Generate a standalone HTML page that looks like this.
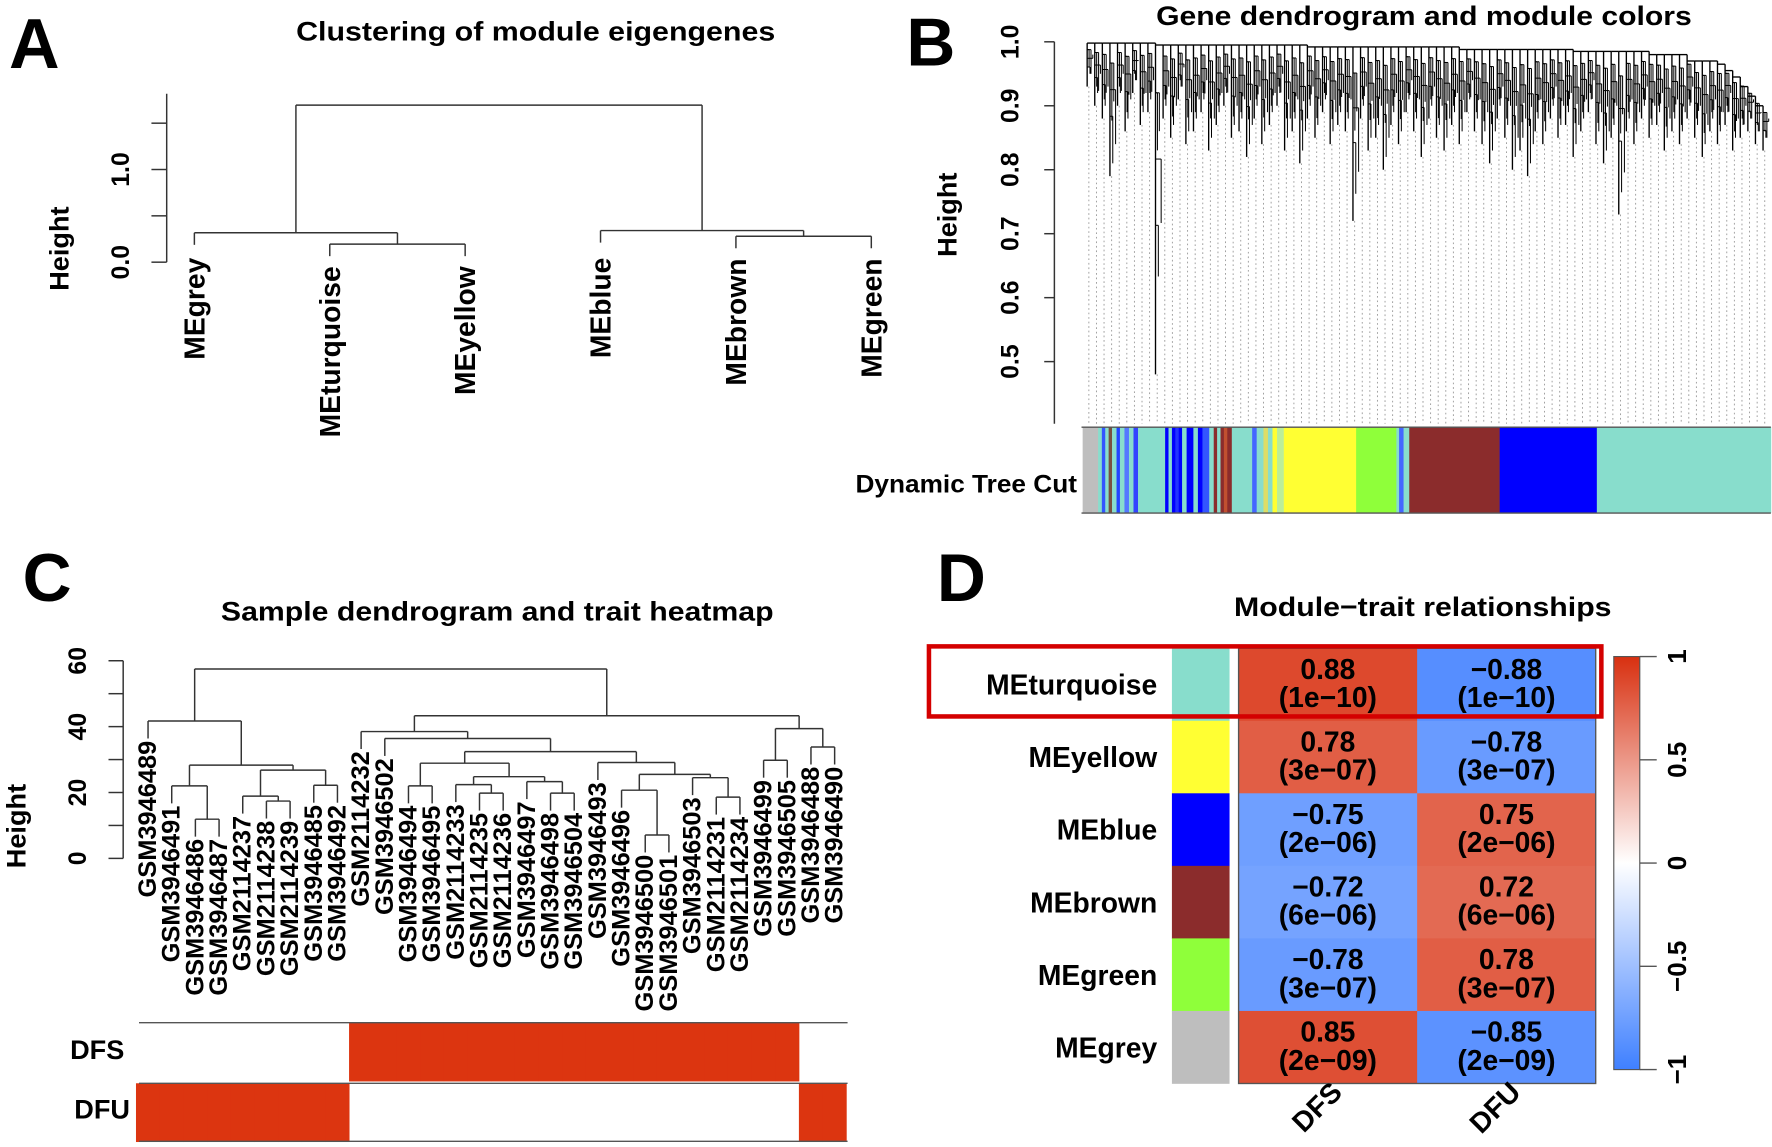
<!DOCTYPE html>
<html><head><meta charset="utf-8"><style>
html,body{margin:0;padding:0;background:#fff;}
svg{display:block;}
text{font-family:"Liberation Sans",sans-serif;fill:#000;}
.b{font-weight:bold;}
</style></head><body>
<svg id="fig" xmlns="http://www.w3.org/2000/svg" width="1772" height="1147" viewBox="0 0 1568 1015" preserveAspectRatio="none">
<g>
<text class="b" x="8" y="60" font-size="62">A</text>
<text class="b" x="802" y="58" font-size="60">B</text>
<text class="b" x="20" y="532" font-size="60">C</text>
<text class="b" x="829" y="532" font-size="60">D</text>
</g>
<text class="b" x="474" y="36" font-size="24" text-anchor="middle" textLength="424" lengthAdjust="spacingAndGlyphs">Clustering of module eigengenes</text>
<text class="b" x="1260" y="22" font-size="24" text-anchor="middle" textLength="474" lengthAdjust="spacingAndGlyphs">Gene dendrogram and module colors</text>
<text class="b" x="440" y="549" font-size="24" text-anchor="middle" textLength="489" lengthAdjust="spacingAndGlyphs">Sample dendrogram and trait heatmap</text>
<text class="b" x="1259" y="545" font-size="24" text-anchor="middle" textLength="334" lengthAdjust="spacingAndGlyphs">Module−trait relationships</text>
<g id="pa"></g>
<g id="pb"></g>
<g id="pc"></g>
<g id="pd"></g>
</svg>
<script>
// ---- Panel A data ----
const aLeaves = ['MEgrey','MEturquoise','MEyellow','MEblue','MEbrown','MEgreen'];
const aTree = [[0,[1,2,0.195],0.317],[3,[4,5,0.28],0.341],1.695];
const aTicks = [0,0.5,1.0,1.5];
const aTickLabels = ['0.0','','1.0',''];
// ---- Panel B data ----
const bTicks = [0.5,0.6,0.7,0.8,0.9,1.0];
const bTops = [0.998,0.998,0.998,0.998,0.998,0.998,0.998,0.998,0.998,0.998,
 0.995,0.995,0.995,0.995,0.995,0.995,0.995,0.995,0.995,0.995,
 0.995,0.995,0.995,0.995,0.995,0.995,0.995,0.995,0.995,0.995,
 0.992,0.992,0.992,0.992,0.992,0.992,0.992,0.992,0.992,0.992,
 0.992,0.992,0.992,0.992,0.992,0.992,0.992,0.992,0.992,0.992,
 0.988,0.988,0.988,0.988,0.988,0.988,0.988,0.988,0.988,0.988,
 0.988,0.988,0.988,0.988,0.988,0.985,0.985,0.985,0.985,0.985,
 0.985,0.985,0.985,0.985,0.985,0.98,0.98,0.98,0.98,0.98,
 0.97,0.97,0.97,0.97,0.965,0.955,0.945,0.93,0.915,0.90];
const bBottoms = [0.93,0.90,0.88,0.79,0.90,0.86,0.92,0.87,0.89,0.48,
 0.88,0.85,0.91,0.84,0.86,0.89,0.83,0.87,0.90,0.85,
 0.86,0.82,0.88,0.84,0.87,0.90,0.83,0.86,0.81,0.88,
 0.85,0.89,0.84,0.87,0.86,0.72,0.88,0.83,0.85,0.80,
 0.87,0.84,0.89,0.86,0.82,0.88,0.85,0.83,0.87,0.84,
 0.89,0.86,0.84,0.81,0.88,0.85,0.80,0.83,0.79,0.86,
 0.84,0.88,0.85,0.87,0.82,0.86,0.89,0.84,0.81,0.85,
 0.73,0.86,0.84,0.88,0.85,0.87,0.83,0.86,0.84,0.88,
 0.85,0.82,0.86,0.84,0.87,0.83,0.85,0.86,0.84,0.83];
const bSegStart = [958,971.7,975,978,981,984,988,991,995,999,1003,1007,1014,1031,1034,1037,1040,1043,1046,1050,1053,1056,1060,1064,1070,1074,1077,1080,1083,1086,1090,1105,1108,1112,1118,1122,1126,1130,1136,1200,1235.6,1238,1242,1247,1327,1413];
const bSegColor = ['#bebebe','#88ddcc','#3355ff','#88ddcc','#7a5040','#88ddcc','#2244ff','#88ddcc','#5577ff','#88ddcc','#3344ff','#88ddcc','#88ddcc','#0000ff','#88ddcc','#0000ff','#2233ff','#0000ff','#88ddcc','#0000ff','#0000ff','#88ddcc','#0000ff','#3355ff','#88ddcc','#8b2c2c','#88ddcc','#8b2c2c','#c05030','#8b2c2c','#88ddcc','#88ddcc','#4466ff','#88ddcc','#dddd66','#88ddcc','#ffff33','#bbee99','#ffff33','#8fff3a','#88ddcc','#4466ff','#88ddcc','#8b2c2c','#0000ff','#88ddcc'];
// ---- Panel C data ----
const cSamples = ['GSM3946489','GSM3946491','GSM3946486','GSM3946487','GSM2114237','GSM2114238','GSM2114239','GSM3946485','GSM3946492','GSM2114232','GSM3946502','GSM3946494','GSM3946495','GSM2114233','GSM2114235','GSM2114236','GSM3946497','GSM3946498','GSM3946504','GSM3946493','GSM3946496','GSM3946500','GSM3946501','GSM3946503','GSM2114231','GSM2114234','GSM3946499','GSM3946505','GSM3946488','GSM3946490'];
const cTree = [
 [0,[[1,[2,3,11.9],22.0],[[4,[5,6,17.4],18.9],[7,8,22.2],26.8],28.3],41.7],
 [[9,[10,[[[11,12,22.0],[[13,[14,15,19.8],22.4],[16,[17,18,19.8],23.3],24.8],28.9],[19,[[20,[21,22,7.1],20.7],[23,[24,25,18.6],24.5],25.5],29.1],32.4],36.4],38.5],[[26,27,29.8],[28,29,33.8],39.4],43.3],
 57.5];
const cTicks = [0,10,20,30,40,50,60];
const cTickLabels = ['0','','20','','40','','60'];
const cDFS = [0,0,0,0,0,0,0,0,0,1,1,1,1,1,1,1,1,1,1,1,1,1,1,1,1,1,1,1,0,0];
const cDFU = [1,1,1,1,1,1,1,1,1,0,0,0,0,0,0,0,0,0,0,0,0,0,0,0,0,0,0,0,1,1];
// ---- Panel D data ----
const dModules = ['MEturquoise','MEyellow','MEblue','MEbrown','MEgreen','MEgrey'];
const dModuleColors = ['#88ddcc','#ffff33','#0000ff','#8b2c2c','#8fff3a','#bebebe'];
const dTraits = ['DFS','DFU'];
const dCorDFS = [0.88,0.78,-0.75,-0.72,-0.78,0.85];
const dCorDFU = [-0.88,-0.78,0.75,0.72,0.78,-0.85];
const dPDFS = ['1e−10','3e−07','2e−06','6e−06','3e−07','2e−09'];
const dPDFU = ['1e−10','3e−07','2e−06','6e−06','3e−07','2e−09'];
const dScaleTicks = [1,0.5,0,-0.5,-1];
const dScaleLabels = ['1','0.5','0','−0.5','−1'];

const NS='http://www.w3.org/2000/svg';
function mk(tag, parent, attrs){const e=document.createElementNS(NS,tag);for(const k in attrs)e.setAttribute(k,attrs[k]);parent.appendChild(e);return e;}
function line(p,x1,y1,x2,y2,st,w){return mk('line',p,{x1:x1,y1:y1,x2:x2,y2:y2,stroke:st||'#333',"stroke-width":w||1.3});}
function vtext(p,x,y,str,size,bold,anchor){const t=mk('text',p,{x:0,y:0,transform:`translate(${x},${y}) rotate(-90)`,"font-size":size,"text-anchor":anchor||'middle',"dominant-baseline":'central'});if(bold)t.setAttribute('class','b');t.textContent=str;return t;}

function drawTree(p,node,xOf,yOf,hang,leafCb){
  if(typeof node==='number'){return {x:xOf(node),h:null,leaf:node};}
  const L=drawTree(p,node[0],xOf,yOf,hang,leafCb), R=drawTree(p,node[1],xOf,yOf,hang,leafCb), h=node[2];
  [L,R].forEach(c=>{
    const bottom = c.h===null ? h-hang : c.h;
    const ln=line(p,c.x,yOf(h),c.x,yOf(bottom));
    
    
    if(c.h===null) leafCb(c.leaf,c.x,yOf(bottom));
  });
  const hl=line(p,L.x,yOf(h),R.x,yOf(h));
  
  
  return {x:(L.x+R.x)/2,h:h};
}

// ===== Panel A =====
(function(){
  const g=document.getElementById('pa');
  const yA=h=>232-h*82, xA=i=>172+i*119.8;
  const ax=line(g,147.5,83,147.5,232);
   
  aTicks.forEach((t,i)=>{const tk=line(g,134,yA(t),147.5,yA(t));
     
    if(aTickLabels[i]){const tl=vtext(g,107,yA(t),aTickLabels[i],22,true);
       }});
  const yt=vtext(g,52,220,'Height',24,true);
   
  drawTree(g,aTree,xA,yA,0.13,(leaf,x,y)=>{
    const t=vtext(g,x,Math.max(y,219)+9,aLeaves[leaf],25,true,'end');
     
  });
})();

// ===== Panel B =====
(function(){
  const g=document.getElementById('pb');
  const yB=h=>37+(1-h)*566, xB=i=>962+i*6.72;
  const ax=line(g,933,37,933,375);
   
  bTicks.forEach(t=>{const tk=line(g,924,yB(t),933,yB(t));
     
    const tl=vtext(g,894,yB(t),t.toFixed(1),22,true);
     });
  const yt=vtext(g,838,190,'Height',24,true);
   
  const dg=mk('g',g,{});
   
  bBottoms.forEach((b,i)=>{
    const d=line(dg,xB(i)+1.5,yB(b),xB(i)+1.5,375,'#999',0.8);
    d.setAttribute('stroke-dasharray','1.5 2.5');
     
  });
  bBottoms.forEach((b,i)=>{
    const x=xB(i), t=bTops[i];
    const nt=(i<bBottoms.length-1)?bTops[i+1]:t;
    const v=line(dg,x,yB(t),x,yB(b),'#000',1.2);
     
    const m1=t-(t-b)*0.15, m2=t-(t-b)*0.35, m3=t-(t-b)*0.55;
    [[m1,1.7,Math.max(b+0.03,m1-0.09)],[m1,3.4,Math.max(b+0.02,m1-0.06)],[m2,5.0,Math.max(b+0.05,m2-0.1)],[m3,2.5,Math.max(b+0.02,m3-0.08)]].forEach(s=>{
      const hl=line(dg,x,yB(s[0]),x+s[1],yB(s[0]),'#000',0.9);
       
      const vl=line(dg,x+s[1],yB(s[0]),x+s[1],yB(s[2]),'#000',0.9);
       
    });
    if(i<bBottoms.length-1){const h=line(dg,x,yB(Math.min(t,nt)),xB(i+1),yB(Math.min(t,nt)),'#000',1.2);
       }
  });
  const cb=mk('g',g,{});
   
  bSegStart.forEach((s,i)=>{const e=(i<bSegStart.length-1)?bSegStart[i+1]:1567;
    const r=mk('rect',cb,{x:s,y:378,width:e-s+0.3,height:76,fill:bSegColor[i]});
     });
  const t1=line(cb,957,378,1567,378,'#555',1.2);  
  const t2=line(cb,957,454,1567,454,'#555',1.2);  
  const lab=mk('text',g,{x:953,y:436,"font-size":22,"text-anchor":'end',class:'b',textLength:196,lengthAdjust:'spacingAndGlyphs'});
  lab.textContent='Dynamic Tree Cut';
   
})();

// ===== Panel C =====
(function(){
  const g=document.getElementById('pc');
  const yC=h=>759.6-h*2.915, xC=i=>131+i*20.95;
  const ax=line(g,109,yC(0),109,yC(60));
   
  cTicks.forEach((t,i)=>{const tk=line(g,96,yC(t),109,yC(t));
     
    if(cTickLabels[i]){const tl=vtext(g,69,yC(t),cTickLabels[i],22,true);
       }});
  const yt=vtext(g,14,731,'Height',24,true);
   
  drawTree(g,cTree,xC,yC,5.3,(leaf,x,y)=>{
    const t=vtext(g,x,y+2,cSamples[leaf],22.5,true,'end');
     
  });
  const w=20.95, x0=xC(0)-w/2;
  [[cDFS,905,'DFS',929,110],[cDFU,958.6,'DFU',982,115]].forEach(row=>{
    row[0].forEach((v,i)=>{if(v){const r=mk('rect',g,{x:x0+i*w-0.2,y:row[1],width:w+0.4,height:52,fill:'#dc3510'});
       }});
    const l=mk('text',g,{x:row[4],y:row[3]+8,"font-size":24,"text-anchor":'end',class:'b'});
    l.textContent=row[2];
     
  });
  [905,958.6,1010].forEach(y=>{const l=line(g,123,y,750,y,'#555',1.2);
     });
})();

// ===== Panel D =====
(function(){
  const g=document.getElementById('pd');
  const top=573.6, rh=64.2, cx0=1096, cw=158;
  function col(v){const a=Math.abs(v);
    if(v>=0) return `rgb(${255-a*39},${255-a*207},${255-a*239})`;
    return `rgb(${255-a*192},${255-a*128},255)`;}
  const xD=j=>cx0+j*cw, yD=i=>top+i*rh;
  dModules.forEach((m,i)=>{
    const r=mk('rect',g,{x:1037,y:yD(i),width:51,height:rh+0.3,fill:dModuleColors[i]});
     
    const l=mk('text',g,{x:1024,y:yD(i)+rh/2+9,"font-size":25,"text-anchor":'end',class:'b'});
    l.textContent=m;
     
    [[dCorDFS,dPDFS],[dCorDFU,dPDFU]].forEach((s,j)=>{
      const v=s[0][i];
      const c=mk('rect',g,{x:xD(j),y:yD(i),width:cw+0.3,height:rh+0.3,fill:col(v)});
       
      const t1=mk('text',g,{x:xD(j)+cw/2,y:yD(i)+rh/2-5,"font-size":25,"text-anchor":'middle',class:'b'});
      t1.textContent=(v<0?'−':'')+Math.abs(v).toFixed(2);
       
      const t2=mk('text',g,{x:xD(j)+cw/2,y:yD(i)+rh/2+20,"font-size":25,"text-anchor":'middle',class:'b'});
      t2.textContent='('+s[1][i]+')';
       
    });
  });
  const fr=mk('rect',g,{x:cx0,y:top,width:2*cw,height:6*rh,fill:'none',stroke:'#555','stroke-width':1.2});
   
  dTraits.forEach((t,j)=>{
    const x=xD(j)+cw/2+14, y=968;
    const l=mk('text',g,{x:0,y:0,transform:`translate(${x},${y}) rotate(-45)`,"font-size":25,"text-anchor":'end',class:'b'});
    l.textContent=t;
     
  });
  const hi=mk('rect',g,{x:822,y:572,width:595,height:62,fill:'none',stroke:'#d40000','stroke-width':4});
   
  const defs=mk('defs',document.getElementById('fig'),{});
  const gr=mk('linearGradient',defs,{id:'cs',x1:0,y1:0,x2:0,y2:1});
  [[0,'#d83010'],[0.5,'#ffffff'],[1,'#3f80ff']].forEach(s=>mk('stop',gr,{offset:s[0],'stop-color':s[1]}));
  const yS=v=>581+(1-v)/2*(946.5-581);
  const sb=mk('rect',g,{x:1428,y:yS(1),width:23,height:yS(-1)-yS(1),fill:'url(#cs)',stroke:'#555','stroke-width':1});
   
  dScaleTicks.forEach((v,i)=>{
    const tk=line(g,1451,yS(v),1466,yS(v),'#555',1.2);
     
    const tl=vtext(g,1484,yS(v),dScaleLabels[i],23,true);
     
  });
})();
</script>
</body></html>
